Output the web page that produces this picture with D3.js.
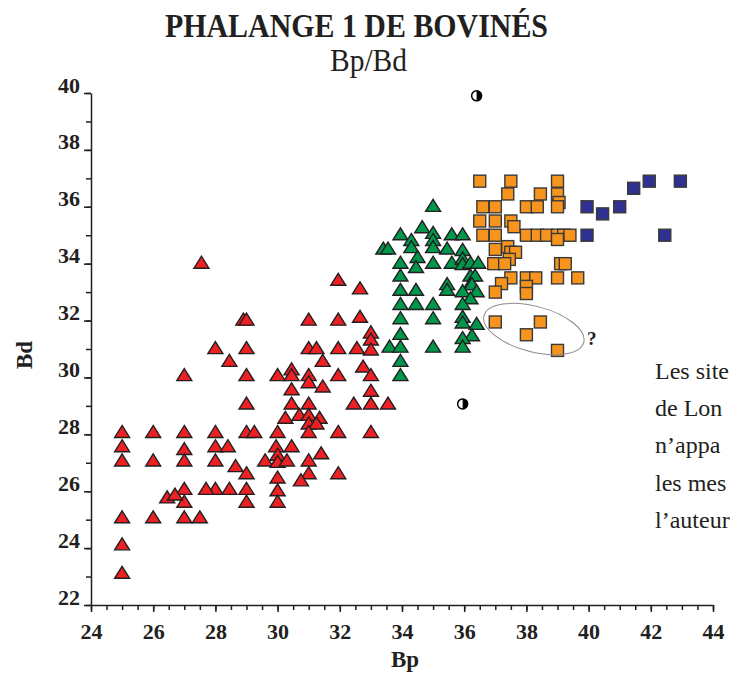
<!DOCTYPE html>
<html>
<head>
<meta charset="utf-8">
<script src="https://cdn.jsdelivr.net/npm/d3@7"></script>
<style>
  body { margin: 0; background: #fff; }
  svg text { font-family: "Liberation Serif", "Times New Roman", serif; fill: #231f20; }
  .axis path, .axis line { stroke: #231f20; stroke-width: 1.5; }
  .axis text { font-size: 22px; font-weight: bold; }
</style>
</head>
<body>
<svg width="730" height="673"></svg>
<script>
var width = 730;
var height = 673;

// Bp / Bd pairs
var redPoints = [
  [25.0, 28.1], [25.0, 27.6], [25.0, 27.1], [25.0, 25.1], [25.0, 24.15], [25.0, 23.15],
  [26.0, 28.1], [26.0, 27.1], [26.0, 25.1],
  [27.0, 28.1], [27.0, 27.5], [27.0, 27.1], [27.0, 26.1], [27.0, 25.65], [27.0, 25.1], [27.0, 30.1],
  [28.0, 28.1], [28.0, 27.6], [28.0, 27.1], [28.0, 26.1], [28.4, 27.6], [27.5, 25.1],
  [26.45, 25.8], [26.7, 25.9], [27.7, 26.1], [28.45, 26.1], [29.0, 26.1], [28.65, 26.9],
  [29.0, 26.65], [29.0, 25.65], [29.0, 29.1], [29.0, 28.1], [29.25, 28.1],
  [27.55, 34.05], [31.95, 33.45], [32.65, 33.15],
  [28.9, 32.05], [29.0, 32.05], [31.0, 32.05], [31.95, 32.05], [32.65, 32.15],
  [33.0, 31.6], [33.0, 31.35], [33.0, 31.0],
  [28.0, 31.05], [29.0, 31.05], [31.0, 31.05], [31.25, 31.05], [31.95, 31.05], [32.55, 31.05],
  [28.45, 30.6], [31.45, 30.6],
  [29.0, 30.1], [30.0, 30.1], [30.45, 30.3], [30.45, 30.1], [31.0, 30.1], [31.0, 29.85],
  [31.45, 29.7], [31.95, 30.1], [32.75, 30.4], [33.0, 30.1], [30.45, 29.6], [33.0, 29.55],
  [30.45, 29.1], [31.0, 29.1], [32.45, 29.1], [33.0, 29.1], [33.55, 29.1],
  [30.25, 28.6], [30.7, 28.7], [31.0, 28.7], [31.35, 28.6], [31.0, 28.4], [31.25, 28.4],
  [30.0, 28.1], [31.0, 28.1], [31.95, 28.1], [33.0, 28.1],
  [29.95, 27.6], [30.45, 27.6], [29.6, 27.1], [30.0, 27.3], [30.0, 27.05], [30.3, 27.1],
  [31.0, 27.1], [31.4, 27.35], [31.0, 26.65], [30.75, 26.4], [31.95, 26.65],
  [30.0, 26.5], [30.0, 26.05], [30.0, 25.65]
];

var greenPoints = [
  [35.0, 36.05], [34.65, 35.3], [33.95, 35.05], [35.0, 35.1], [34.3, 34.85], [35.0, 34.85],
  [35.6, 35.05], [35.95, 35.05], [33.4, 34.55], [33.55, 34.55], [34.3, 34.6], [35.0, 34.6],
  [35.45, 34.55], [35.95, 34.5], [33.95, 34.05], [34.5, 34.25], [34.45, 33.9], [35.0, 34.05],
  [35.6, 34.05], [35.95, 34.2], [35.95, 34.0], [36.2, 34.05], [36.45, 34.05], [33.95, 33.6],
  [35.45, 33.3], [35.45, 33.1], [36.2, 33.6], [36.35, 33.6], [36.2, 33.3], [36.25, 33.3],
  [33.95, 33.1], [34.45, 33.1], [35.95, 33.05], [36.4, 33.05], [36.2, 32.8],
  [33.95, 32.6], [34.45, 32.6], [35.0, 32.6], [35.95, 32.6],
  [33.95, 32.1], [35.0, 32.1], [35.95, 32.15], [35.95, 31.95], [36.4, 31.9],
  [33.95, 31.55], [36.25, 31.5], [35.95, 31.4],
  [33.6, 31.1], [33.95, 31.1], [35.0, 31.1], [35.95, 31.1], [33.95, 30.6], [33.95, 30.1]
];

var orangePoints = [
  [36.5, 36.9], [37.5, 36.9], [39.0, 36.9], [37.4, 36.45], [38.45, 36.45], [39.0, 36.45],
  [39.05, 36.15], [36.6, 36.0], [37.0, 36.0], [38.0, 36.0], [38.35, 36.0], [39.0, 36.0],
  [36.5, 35.5], [37.0, 35.5], [37.5, 35.5], [37.6, 35.3],
  [36.6, 35.0], [37.0, 35.0], [38.0, 35.0], [38.35, 35.0], [38.65, 35.0], [39.0, 35.0],
  [39.2, 35.0], [39.4, 35.0], [39.0, 34.85],
  [37.0, 34.5], [37.4, 34.6], [37.5, 34.4], [37.65, 34.4], [37.45, 34.15],
  [36.95, 34.0], [37.3, 34.0], [39.1, 34.0], [39.25, 34.0],
  [37.5, 33.5], [38.0, 33.5], [38.3, 33.5], [39.0, 33.5], [39.65, 33.5],
  [37.2, 33.3], [38.0, 33.2], [37.0, 33.0], [38.0, 32.95],
  [37.0, 31.95], [38.45, 31.95], [38.0, 31.5], [39.0, 30.95]
];

var bluePoints = [
  [39.95, 36.0], [40.45, 35.75], [41.0, 36.0], [41.45, 36.65],
  [41.95, 36.9], [42.95, 36.9], [39.95, 35.0], [42.45, 35.0]
];

var halfCirclePoints = [[36.4, 39.9], [35.95, 29.07]];

// questionable group: ellipse centre and half axes in data units
var ellipseCenter = [38.24, 31.7];
var ellipseHalfWidth = 1.66;
var ellipseHalfHeight = 0.8;

var xTicks = [24, 26, 28, 30, 32, 34, 36, 38, 40, 42, 44];
var yTicks = [22, 24, 26, 28, 30, 32, 34, 36, 38, 40];
var xMinorTicks = d3.range(24, 44.01, 0.5);
var yMinorTicks = d3.range(22, 40.01, 1);

// only the part of the side note that fits on the page
var noteLines = ["Les site", "de Lon", "n\u2019appa", "les mes", "l\u2019auteur"];

var svg = d3.select("svg");

var xScale = d3.scaleLinear().domain([24, 44]).range([91, 713]);
var yScale = d3.scaleLinear().domain([22, 40]).range([605, 93]);

/******************************************
  Titles
******************************************/
svg.append("text")
    .attr("x", 165)
    .attr("y", 37)
    .attr("textLength", 383)
    .attr("lengthAdjust", "spacingAndGlyphs")
    .style("font-size", "33px")
    .style("font-weight", "bold")
    .text("PHALANGE 1 DE BOVINÉS");

svg.append("text")
    .attr("x", 330)
    .attr("y", 71)
    .attr("textLength", 77)
    .attr("lengthAdjust", "spacingAndGlyphs")
    .style("font-size", "31px")
    .text("Bp/Bd");

/******************************************
  Axes (minor ticks first, then labelled ones)
******************************************/
svg.append("g")
    .attr("class", "axis")
    .attr("transform", "translate(0,605)")
    .call(d3.axisBottom(xScale).tickValues(xMinorTicks).tickSize(5).tickSizeOuter(0).tickFormat(""));

var xAxisG = svg.append("g")
    .attr("class", "axis")
    .attr("transform", "translate(0,605)")
    .call(d3.axisBottom(xScale).tickValues(xTicks).tickSize(7).tickSizeOuter(0));
xAxisG.select(".domain").remove();
xAxisG.selectAll("text").attr("y", 34).attr("dy", 0);

svg.append("g")
    .attr("class", "axis")
    .attr("transform", "translate(91,0)")
    .call(d3.axisLeft(yScale).tickValues(yMinorTicks).tickSize(5).tickSizeOuter(0).tickFormat(""));

var yAxisG = svg.append("g")
    .attr("class", "axis")
    .attr("transform", "translate(91,0)")
    .call(d3.axisLeft(yScale).tickValues(yTicks).tickSize(7).tickSizeOuter(0));
yAxisG.select(".domain").remove();
yAxisG.selectAll("text").attr("x", -11).attr("y", -1).attr("dy", 0);

svg.append("text")
    .attr("x", 405)
    .attr("y", 667)
    .attr("text-anchor", "middle")
    .style("font-size", "23px")
    .style("font-weight", "bold")
    .text("Bp");

svg.append("text")
    .attr("transform", "translate(32,355) rotate(-90)")
    .attr("text-anchor", "middle")
    .style("font-size", "23px")
    .style("font-weight", "bold")
    .text("Bd");

/******************************************
  Points
******************************************/
var trianglePath = "M0,-6L7.5,6L-7.5,6Z";

function drawTriangles(points, color) {
    svg.append("g").selectAll("path")
        .data(points)
        .enter()
        .append("path")
        .attr("d", trianglePath)
        .attr("transform", d => "translate(" + xScale(d[0]) + "," + yScale(d[1]) + ")")
        .attr("fill", color)
        .attr("stroke", "#231f20")
        .attr("stroke-width", 1.4)
        .attr("stroke-linejoin", "miter");
}

function drawSquares(points, color) {
    svg.append("g").selectAll("rect")
        .data(points)
        .enter()
        .append("rect")
        .attr("x", d => xScale(d[0]) - 6)
        .attr("y", d => yScale(d[1]) - 6)
        .attr("width", 12)
        .attr("height", 12)
        .attr("fill", color)
        .attr("stroke", "#3a3a3a")
        .attr("stroke-width", 1.4);
}

drawTriangles(redPoints, "#ed2024");
drawTriangles(greenPoints, "#00964b");
drawSquares(orangePoints, "#f7941d");
drawSquares(bluePoints, "#2e3192");

var halfCircles = svg.append("g").selectAll("g")
    .data(halfCirclePoints)
    .enter()
    .append("g")
    .attr("transform", d => "translate(" + xScale(d[0]) + "," + yScale(d[1]) + ")");

halfCircles.append("circle")
    .attr("r", 5)
    .attr("fill", "#fff")
    .attr("stroke", "#000")
    .attr("stroke-width", 1.5);

halfCircles.append("path")
    .attr("d", "M0,-5A5,5 0 0,1 0,5Z")
    .attr("fill", "#000");

/******************************************
  Ellipse around the uncertain squares
******************************************/
var ecx = xScale(ellipseCenter[0]);
var ecy = yScale(ellipseCenter[1]);

svg.append("ellipse")
    .attr("cx", ecx)
    .attr("cy", ecy)
    .attr("rx", xScale(ellipseCenter[0] + ellipseHalfWidth) - ecx)
    .attr("ry", ecy - yScale(ellipseCenter[1] + ellipseHalfHeight))
    .attr("transform", "rotate(15," + ecx + "," + ecy + ")")
    .attr("fill", "none")
    .attr("stroke", "#8c8c8c")
    .attr("stroke-width", 1);

svg.append("text")
    .attr("x", 587)
    .attr("y", 345)
    .style("font-size", "19px")
    .style("font-weight", "bold")
    .text("?");

/******************************************
  Side note (cut by the page edge)
******************************************/
svg.append("g").selectAll("text")
    .data(noteLines)
    .enter()
    .append("text")
    .attr("x", 655)
    .attr("y", (d, i) => 379 + i * 37.2)
    .style("font-size", "24px")
    .text(d => d);
</script>
</body>
</html>
